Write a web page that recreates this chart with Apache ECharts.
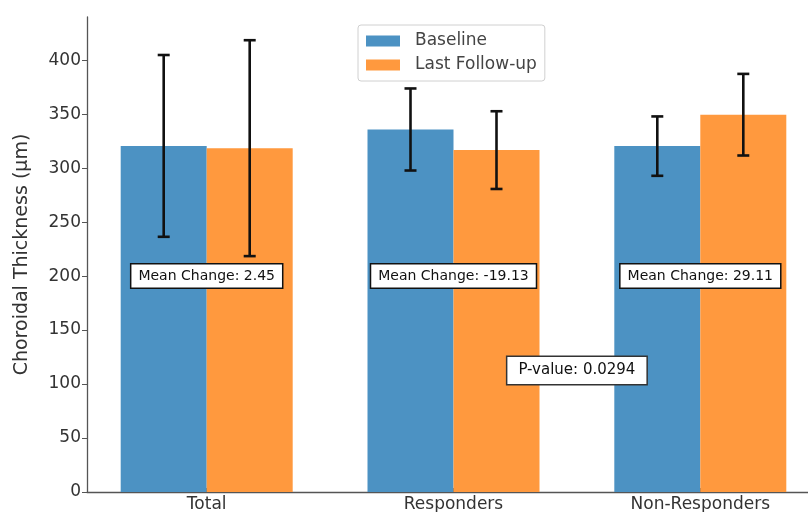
<!DOCTYPE html>
<html>
<head>
<meta charset="utf-8">
<script src="https://cdn.jsdelivr.net/npm/echarts@6/dist/echarts.min.js"></script>
<style>
html,body{margin:0;padding:0;background:#fff;}
#chart{width:808px;height:512px;}
</style>
</head>
<body>
<div id="chart"></div>
<script>
var categories = ['Total', 'Responders', 'Non-Responders'];
var baselineMean = [320.6, 335.8, 320.4];
var baselineSD = [84.2, 38.0, 27.5];
var followupMean = [318.5, 316.7, 349.5];
var followupSD = [100.0, 36.0, 37.8];
var meanChanges = ['2.45', '-19.13', '29.11'];
var pValueText = '0.0294';
var yTicks = [0, 50, 100, 150, 200, 250, 300, 350, 400];
var seriesNames = ['Baseline', 'Last Follow-up'];

var BLUE = '#4c92c3', ORANGE = '#ff993e';
var BAR_W = 86;

var chart = echarts.init(document.getElementById('chart'));

function errItem(offset) {
  return function (params, api) {
    var x = api.value(0), m = api.value(1), s = api.value(2);
    var top = api.coord([x, m + s]);
    var bot = api.coord([x, m - s]);
    var cx = top[0] + offset;
    var cap = 6;
    var st = { stroke: '#111', lineWidth: 2.6 };
    return {
      type: 'group',
      children: [
        { type: 'line', shape: { x1: cx, y1: top[1], x2: cx, y2: bot[1] }, style: st },
        { type: 'line', shape: { x1: cx - cap, y1: top[1], x2: cx + cap, y2: top[1] }, style: st },
        { type: 'line', shape: { x1: cx - cap, y1: bot[1], x2: cx + cap, y2: bot[1] }, style: st }
      ]
    };
  };
}

var option = {
  animation: false,
  backgroundColor: '#fff',
  textStyle: { fontFamily: 'DejaVu Sans' },
  grid: { left: 87, width: 733, top: 17, height: 475, containLabel: false, outerBoundsMode: 'none' },
  legend: {
    data: seriesNames,
    orient: 'vertical',
    left: 358, top: 25,
    icon: 'rect',
    itemWidth: 34, itemHeight: 11,
    itemGap: 6,
    padding: [7, 8, 7, 8],
    backgroundColor: 'rgba(255,255,255,0.8)',
    borderColor: '#d0d0d0', borderWidth: 1, borderRadius: 3,
    textStyle: { fontSize: 17, color: '#444', lineHeight: 18, padding: [0, 0, 0, 10], fontFamily: 'DejaVu Sans' }
  },
  xAxis: {
    type: 'value',
    min: -0.485, max: 2.485,
    splitLine: { show: false },
    axisLine: { show: true, onZero: false, lineStyle: { color: '#555', width: 1.3 } },
    axisTick: { show: true, inside: true, length: 4, customValues: [0, 1, 2], lineStyle: { color: '#555' } },
    axisLabel: {
      customValues: [0, 1, 2],
      formatter: function (v) { return categories[Math.round(v)]; },
      fontSize: 17, color: '#333', margin: 4, fontFamily: 'DejaVu Sans'
    }
  },
  yAxis: {
    type: 'value',
    min: 0, max: 440,
    name: 'Choroidal Thickness (µm)',
    nameLocation: 'middle',
    nameGap: 55,
    nameTextStyle: { fontSize: 19, color: '#333', fontFamily: 'DejaVu Sans' },
    splitLine: { show: false },
    axisLine: { show: true, onZero: false, lineStyle: { color: '#555', width: 1.3 } },
    axisTick: { show: true, length: 5, customValues: yTicks, lineStyle: { color: '#555' } },
    axisLabel: { customValues: yTicks, fontSize: 17, color: '#333', margin: 6, fontFamily: 'DejaVu Sans' }
  },
  series: [
    {
      name: seriesNames[0], type: 'bar', barWidth: BAR_W, barGap: '0%',
      itemStyle: { color: BLUE },
      data: baselineMean.map(function (v, i) { return [i, v]; }),
      z: 2
    },
    {
      name: seriesNames[1], type: 'bar', barWidth: BAR_W, barGap: '0%',
      itemStyle: { color: ORANGE },
      data: followupMean.map(function (v, i) { return [i, v]; }),
      z: 2
    },
    {
      type: 'custom', renderItem: errItem(-BAR_W / 2), z: 5,
      data: baselineMean.map(function (v, i) { return [i, v, baselineSD[i]]; }),
      encode: { x: 0, y: [1] }
    },
    {
      type: 'custom', renderItem: errItem(BAR_W / 2), z: 5,
      data: followupMean.map(function (v, i) { return [i, v, followupSD[i]]; }),
      encode: { x: 0, y: [1] }
    },
    {
      type: 'scatter', symbolSize: 0, z: 10, silent: true,
      itemStyle: { opacity: 1 },
      data: meanChanges.map(function (c, i) { return [i, 200]; }),
      label: {
        show: true, position: 'inside',
        formatter: function (p) { return 'Mean Change: ' + meanChanges[p.dataIndex]; },
        fontSize: 14, color: '#111', fontFamily: 'DejaVu Sans',
        backgroundColor: '#fff', borderColor: '#111', borderWidth: 1.5,
        padding: [5, 7, 4, 7]
      }
    },
    {
      type: 'scatter', symbolSize: 0, z: 10, silent: true,
      itemStyle: { opacity: 1 },
      data: [[1.5, 112.5]],
      label: {
        show: true, position: 'inside',
        formatter: function () { return 'P-value: ' + pValueText; },
        fontSize: 15, color: '#111', fontFamily: 'DejaVu Sans',
        backgroundColor: '#fff', borderColor: '#333', borderWidth: 1.5,
        padding: [6, 11, 6, 11]
      }
    }
  ]
};
chart.setOption(option);
</script>
</body>
</html>
